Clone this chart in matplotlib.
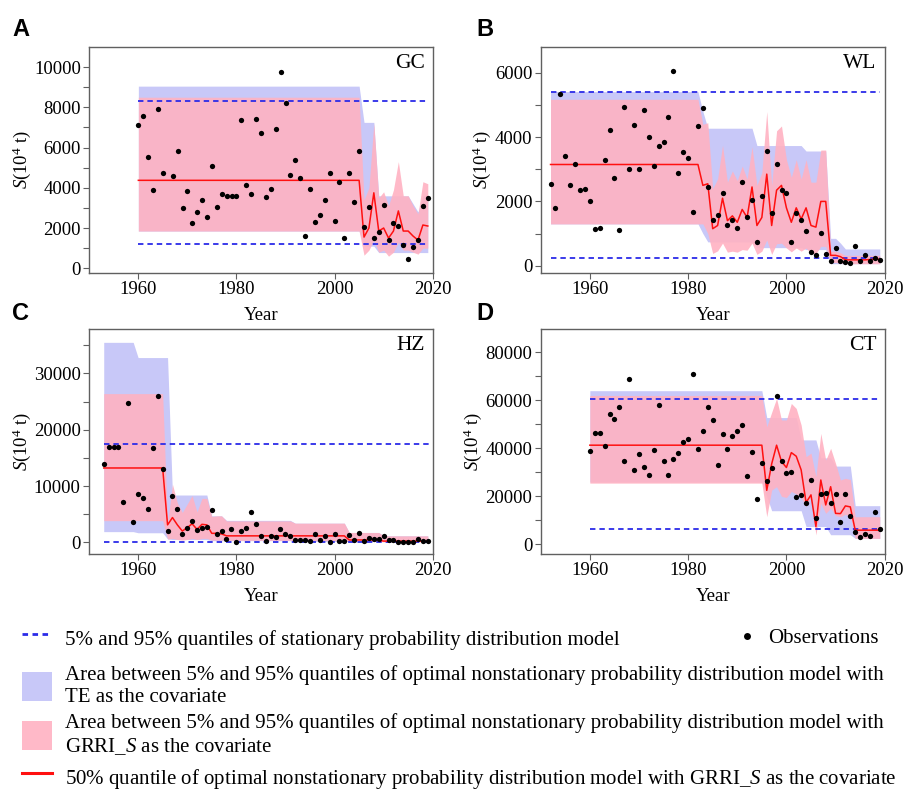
import matplotlib
matplotlib.use("Agg")
import matplotlib.pyplot as plt
from matplotlib.lines import Line2D
from matplotlib.patches import Patch
from matplotlib.ticker import MultipleLocator

plt.rcParams['font.family'] = ['Liberation Serif', 'DejaVu Serif']
plt.rcParams['mathtext.fontset'] = 'custom'
plt.rcParams['mathtext.rm'] = 'Liberation Serif'
plt.rcParams['mathtext.it'] = 'Liberation Serif:italic'

# ---------------- Panel A : GC ----------------
a_obs_years = list(range(1960, 1966)) + list(range(1967, 2020))
a_obs = [7120, 7570, 5510, 3910, 7910, 4720,
         4600, 5840, 3010, 3840, 2250, 2780, 3380, 2550, 5100, 3050, 3710, 3590, 3590,
         3590, 7350, 4120, 3690, 7400, 6700, 3540, 3940, 6900, 9730, 8200, 4620, 5380,
         4470, 1610, 3940, 2300, 2650, 3390, 4750, 2330, 4290, 1510, 4730, 3300, 5840,
         2040, 3050, 1520, 1820, 3150, 1420, 2270, 2090, 1180, 480, 1060, 1390, 3100, 3490]
a_years = list(range(1960, 2020))
a_te_hi = [9050] * 46 + [7250, 7250, 7250, 3600, 3600, 3600, 3600, 3600, 3600, 3600, 3200, 2800, 3600, 3600]
a_te_lo = [1850] * 46 + [1100, 1100, 1100] + [780] * 11
a_gr_hi = [8500] * 46 + [3400, 4000, 7200, 3500, 3800, 3100, 3900, 5300, 3600, 3600, 3100, 2700, 4300, 4200]
a_gr_lo = [1850] * 46 + [650, 900, 1400, 800, 900, 600, 800, 1300, 900, 900, 800, 700, 1000, 1000]
a_med = [4370] * 46 + [1550, 2000, 3750, 1850, 2000, 1500, 1850, 2850, 1850, 1850, 1600, 1400, 2150, 2100]
a_stat = [1200, 8300]

# ---------------- Panel B : WL ----------------
b_obs_years = list(range(1952, 2020))
b_obs = [2550, 1800, 5350, 3430, 2510, 3180, 2360, 2400,
         2020, 1150, 1180, 3280, 4210, 2740, 1110, 4950, 3020, 4380,
         3020, 4860, 4020, 3090, 3720, 3840, 4630, 6050, 2870, 3530,
         3350, 1680, 4350, 4910, 2440, 1410, 1570, 2270, 1260, 1410,
         1180, 2600, 1520, 2050, 740, 2180, 3580, 1630, 3180, 2360,
         2250, 740, 1630, 1420, 1080, 430, 330, 1030, 370, 130,
         550, 150, 110, 90, 620, 130, 320, 130, 230, 180]
b_years = list(range(1952, 2020))
b_te_hi = [5420] * 31 + [4800] + [4280] * 10 + [3740] * 10 + [3570] * 5 + [850, 850, 700] + [520] * 8
b_te_lo = [1300] * 31 + [1000] + [740] * 10 + [560] * 10 + [500] * 5 + [60] * 11
b_gr_hi = [5180] * 31 + [4400, 4450, 2400, 2700, 3750, 2600, 2950, 2650, 3100, 2700, 3700, 2500,
                         2900, 4800, 2500, 4200, 4350, 3300, 2750, 3300, 2700, 3300, 2600, 2600,
                         3600, 3600, 450, 450, 400] + [320] * 8
b_gr_lo = [1300] * 31 + [1300, 1000, 380, 460, 700, 420, 450, 420, 500, 480, 700, 350,
                         450, 800, 350, 680, 700, 550, 430, 550, 450, 550, 380, 370,
                         600, 600, 100, 100, 80] + [60] * 8
b_med = [3150] * 31 + [2500, 2550, 1150, 1250, 2100, 1400, 1550, 1350, 1750, 1500, 2450, 1250,
                       1500, 2850, 1250, 2350, 2500, 1800, 1350, 1800, 1450, 1800, 1250, 1200,
                       2000, 2000, 320, 320, 280, 180, 180, 180, 180, 180, 190, 200, 200]
b_stat = [250, 5420]

# ---------------- Panel C : HZ ----------------
c_obs_years = list(range(1953, 2020))
c_obs = [13900, 17000, 17000, 17000, 7100, 24700, 3600,
         8500, 7800, 6000, 16700, 26000, 13000, 2100, 8300, 5900, 1400,
         2600, 3700, 2200, 2500, 2700, 5800, 1400, 2100, 600, 2400,
         50, 2000, 2600, 5300, 3300, 1200, 250, 1200, 900, 2300,
         1500, 1200, 470, 470, 470, 300, 1400, 350, 1200, 50,
         1400, 300, 300, 1350, 470, 1650, 300, 830, 530, 530,
         1200, 470, 350, 120, 50, 120, 120, 600, 240, 240]
c_years = list(range(1953, 2020))
c_te_hi = [35500] * 7 + [32800] * 7 + [8400] * 8 + [4700] * 3 + [3900] * 14 + [3400] * 11 + [1750] * 7 + [1150] * 10
c_te_lo = [1900] * 7 + [1700] * 6 + [600] + [500] * 8 + [300] * 17 + [150] * 28
c_gr_hi = [26400] * 13 + [3400, 10300, 7000, 5300, 6800, 8300, 5400, 7800, 7800, 4600, 4700, 4700] + \
          [3800] * 14 + [3400] * 11 + [1750] * 7 + [1150] * 10
c_gr_lo = [3850] * 13 + [600, 700, 500, 400, 500, 700, 500, 700, 700, 400, 400, 400] + \
          [350] * 14 + [300] * 11 + [150] * 7 + [80] * 10
c_med = [13200] * 13 + [3100, 4400, 3100, 2000, 2600, 3300, 2300, 3200, 3100, 1600, 1600, 1500] + \
        [1150] * 14 + [1150] * 11 + [420] * 7 + [220] * 10
c_stat = [100, 17500]

# ---------------- Panel D : CT ----------------
d_obs_years = list(range(1960, 2020))
d_obs = [38750, 46500, 46400, 40800, 54200, 52400, 57400, 34600, 68750, 30800,
         37600, 32100, 29000, 39400, 57900, 34900, 28900, 35600, 38100, 42500,
         43750, 71100, 39900, 47200, 57400, 51800, 33200, 46100, 39900, 45100,
         47100, 49700, 28600, 38600, 19000, 33750, 26250, 31800, 61700, 34600,
         29900, 30000, 19600, 20700, 17400, 26900, 10800, 21000, 21250, 17400,
         21000, 9200, 21000, 11900, 5100, 3200, 4200, 3500, 13300, 6400]
d_years = list(range(1960, 2020))
d_te_hi = [64000] * 36 + [52800] * 7 + [43500] * 4 + [36000] * 3 + [32600] * 4 + [16100] * 6
d_te_lo = [26000] * 36 + [20000] + [14000] * 7 + [7400] * 5 + [4000] * 5 + [2500] * 6
d_gr_hi = [62000] * 36 + [49000, 55000, 60800, 51800, 51800, 58700, 56600, 49700, 36500, 38000,
                          28200, 46200, 35100, 40000, 33700, 26800, 27500, 27000] + [11500] * 6
d_gr_lo = [25500] * 36 + [11500, 22600, 24000, 20000, 19500, 22000, 21000, 19500, 15700, 19900,
                          3900, 17100, 12900, 15000, 12000, 11500, 12500, 11500] + [2500] * 6
d_med = [41300] * 36 + [22500, 33500, 41300, 34500, 32000, 38200, 36700, 31000, 17400, 20600,
                        7400, 26800, 16400, 24000, 12900, 12800, 16000, 15600] + [5900] * 6
d_stat = [6400, 60400]

panel_letters = ['A', 'B', 'C', 'D']
site_names = ['GC', 'WL', 'HZ', 'CT']
x_ticks = [1960, 1980, 2000, 2020]

BLUE_FILL = '#c8c8f8'
PINK_FILL = '#ffb2c2'
PINK_ALPHA = 0.9
DASH_BLUE = '#2b2be8'
SPINE = '#606060'

W, H = 904, 791
fig = plt.figure(figsize=(W / 100, H / 100), dpi=100)

def fr(left, top, right, bottom):
    return [left / W, 1 - bottom / H, (right - left) / W, (bottom - top) / H]

panels = [
    dict(rect=fr(89.3, 47.3, 432.7, 272.7), ylim=(-220, 10980), major=2000, minor=1000,
         obs_years=a_obs_years, obs=a_obs, years=a_years, te_hi=a_te_hi, te_lo=a_te_lo,
         gr_hi=a_gr_hi, gr_lo=a_gr_lo, med=a_med, stat=a_stat, span=(1960, 2019), ylab=-0.164),
    dict(rect=fr(540.7, 47.3, 884.7, 272.7), ylim=(-220, 6800), major=2000, minor=1000,
         obs_years=b_obs_years, obs=b_obs, years=b_years, te_hi=b_te_hi, te_lo=b_te_lo,
         gr_hi=b_gr_hi, gr_lo=b_gr_lo, med=b_med, stat=b_stat, span=(1952, 2019), ylab=-0.139),
    dict(rect=fr(89.0, 329, 432.7, 554), ylim=(-2070, 37870), major=10000, minor=5000,
         obs_years=c_obs_years, obs=c_obs, years=c_years, te_hi=c_te_hi, te_lo=c_te_lo,
         gr_hi=c_gr_hi, gr_lo=c_gr_lo, med=c_med, stat=c_stat, span=(1953, 2019.5), ylab=-0.163),
    dict(rect=fr(540.7, 329, 884.7, 554), ylim=(-4030, 89700), major=20000, minor=10000,
         obs_years=d_obs_years, obs=d_obs, years=d_years, te_hi=d_te_hi, te_lo=d_te_lo,
         gr_hi=d_gr_hi, gr_lo=d_gr_lo, med=d_med, stat=d_stat, span=(1960, 2019), ylab=-0.165),
]

letter_pos = [(12, 29), (476, 29), (12, 314), (476, 314)]

for i, p in enumerate(panels):
    ax = fig.add_axes(p['rect'])
    ax.fill_between(p['years'], p['te_lo'], p['te_hi'], color=BLUE_FILL, lw=0, zorder=1)
    ax.fill_between(p['years'], p['gr_lo'], p['gr_hi'], color=PINK_FILL, alpha=PINK_ALPHA, lw=0, zorder=2)
    ax.hlines(p['stat'], p['span'][0], p['span'][1], colors=DASH_BLUE, linestyles=(0, (3.0, 2.2)),
              lw=1.3, zorder=3)
    ax.plot(p['years'], p['med'], color='#ff1010', lw=1.1, zorder=4)
    ax.plot(p['obs_years'], p['obs'], 'o', color='black', ms=3.8, mec='none', zorder=5)
    ax.set_xlim(1950, 2020)
    ax.set_ylim(*p['ylim'])
    ax.set_xticks(x_ticks)
    ax.yaxis.set_major_locator(MultipleLocator(p['major']))
    ax.yaxis.set_minor_locator(MultipleLocator(p['minor']))
    ax.tick_params(which='both', direction='out', color=SPINE, width=0.8, labelsize=13.5, pad=2)
    ax.tick_params(which='major', length=4)
    ax.tick_params(which='minor', length=4)
    for s in ax.spines.values():
        s.set_color(SPINE)
        s.set_linewidth(1.0)
    ax.set_xlabel('Year', fontsize=13.5)
    ax.xaxis.set_label_coords(0.5, -0.15)
    ax.set_ylabel(r'$\mathit{S}\mathrm{(10^{4}\ t)}$', fontsize=13.5)
    ax.yaxis.set_label_coords(p['ylab'], 0.5)
    ax.text(1 - 8 / 344, 1 - 16 / 225, site_names[i], transform=ax.transAxes,
            ha='right', va='center', fontsize=15.5)
    lx, ly = letter_pos[i]
    fig.text(lx / W, 1 - ly / H, panel_letters[i], fontsize=17, fontweight='bold',
             family='Liberation Sans', ha='left', va='center')

# ---------------- Legend ----------------
LFS = 15
rows = [
    (Line2D([], [], color=DASH_BLUE, ls=(0, (2.0, 1.6)), lw=2.0),
     '5% and 95% quantiles of stationary probability distribution model', 638),
    (Patch(facecolor=BLUE_FILL, edgecolor='none'),
     'Area between 5% and 95% quantiles of optimal nonstationary probability distribution model with\nTE as the covariate', 686),
    (Patch(facecolor=PINK_FILL, alpha=PINK_ALPHA, edgecolor='none'),
     'Area between 5% and 95% quantiles of optimal nonstationary probability distribution model with\nGRRI_$\\mathit{S}$ as the covariate', 735),
    (Line2D([], [], color='#ff1010', lw=2.2),
     '50% quantile of optimal nonstationary probability distribution model with GRRI_$\\mathit{S}$ as the covariate', 777),
]
for h, lab, yc in rows:
    fig.legend([h], [lab], loc='center left', bbox_to_anchor=(22 / W, 1 - yc / H),
               bbox_transform=fig.transFigure, frameon=False, fontsize=LFS,
               handlelength=1.45, handleheight=1.8, handletextpad=0.6,
               borderpad=0, borderaxespad=0)

obs_h = Line2D([], [], marker='o', color='black', ls='none', ms=5, mec='none')
fig.legend([obs_h], ['Observations'], loc='center left', bbox_to_anchor=(737 / W, 1 - 638 / H),
           bbox_transform=fig.transFigure, frameon=False, fontsize=LFS,
           handlelength=1.0, handletextpad=0.5, borderpad=0, borderaxespad=0)

fig.savefig('out.png', dpi=100)
